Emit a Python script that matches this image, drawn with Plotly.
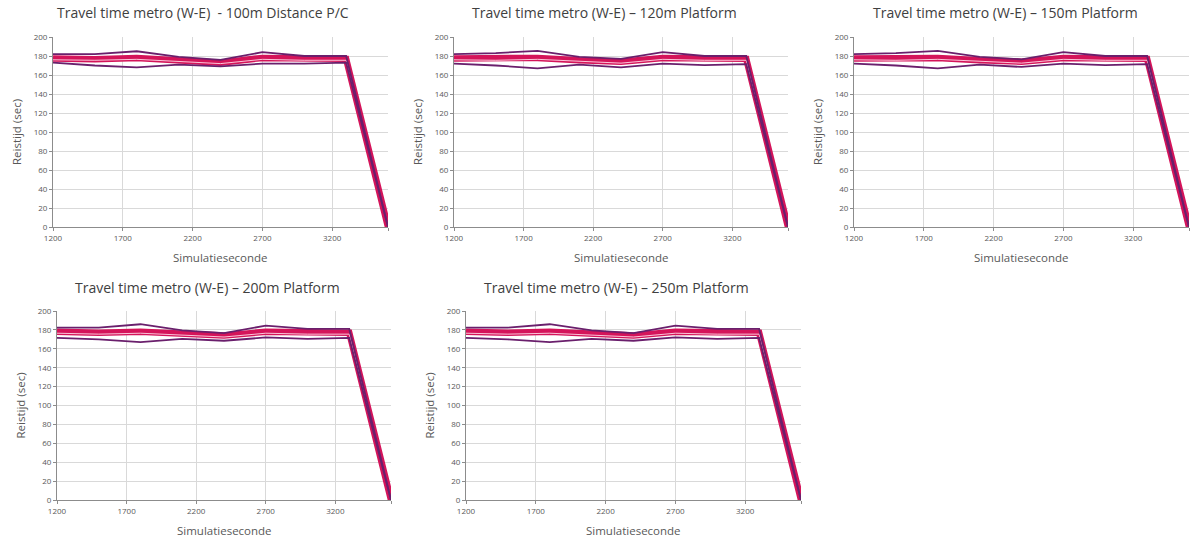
import plotly.graph_objects as go

# Simulation time stamps (seconds)
sim_seconds = [1200, 1500, 1800, 2100, 2400, 2700, 3000, 3300, 3600]

titles = [
    "Travel time metro (W-E)  - 100m Distance P/C",
    "Travel time metro (W-E) \u2013 120m Platform",
    "Travel time metro (W-E) \u2013 150m Platform",
    "Travel time metro (W-E) \u2013 200m Platform",
    "Travel time metro (W-E) \u2013 250m Platform",
]

# Travel time statistics per scenario (seconds)
max_100 = [182, 182, 185, 179, 176, 184, 180, 180, 0]
mean_100 = [177.5, 176.5, 178, 175.5, 173, 178, 177, 177, 0]
median_100 = [176, 175.5, 176.5, 174.5, 172, 176.5, 175.5, 175.5, 0]
min_100 = [173, 170, 168, 171, 169, 172, 172, 173, 0]

max_120 = [182, 183, 185.5, 179, 177, 184, 180, 180, 0]
mean_120 = [177.5, 177, 178, 175.5, 174, 178, 177, 177, 0]
median_120 = [176, 175.5, 176.5, 174.5, 172.5, 176.5, 175.5, 175.5, 0]
min_120 = [172, 170, 167, 171, 168, 172, 170.5, 171.5, 0]

max_150 = [182, 183, 185.5, 179, 176.5, 184, 180, 180, 0]
mean_150 = [177.5, 177, 178, 175.5, 174, 178, 177, 177, 0]
median_150 = [176, 175.5, 176.5, 174.5, 172.5, 176.5, 175.5, 175.5, 0]
min_150 = [172, 170, 167, 171, 168.5, 172, 170.5, 171.5, 0]

max_200 = [182.5, 182.5, 186, 179.5, 176.5, 184.5, 181, 181, 0]
mean_200 = [178, 177, 178, 175.5, 174, 178, 177, 177, 0]
median_200 = [176.5, 175.5, 176.5, 174.5, 172.5, 176.5, 175.5, 175.5, 0]
min_200 = [171.5, 170, 167, 170.5, 168.5, 172, 170.5, 171.5, 0]

max_250 = [182.5, 182.5, 186, 179.5, 176.5, 184.5, 181, 181, 0]
mean_250 = [178, 177, 178, 175.5, 174, 178, 177, 177, 0]
median_250 = [176.5, 175.5, 176.5, 174.5, 172.5, 176.5, 175.5, 175.5, 0]
min_250 = [171.5, 170, 167, 170.5, 168.5, 172, 170.5, 171.5, 0]

series = [
    (max_100, mean_100, median_100, min_100),
    (max_120, mean_120, median_120, min_120),
    (max_150, mean_150, median_150, min_150),
    (max_200, mean_200, median_200, min_200),
    (max_250, mean_250, median_250, min_250),
]

x_ticks = [1200, 1700, 2200, 2700, 3200, 3600]
x_tick_text = ["1200", "1700", "2200", "2700", "3200", ""]
y_ticks = list(range(0, 201, 20))

W, H = 1190, 541

# Plot areas in pixels: (left, right, top, bottom), plus title centre x
panels = [
    (53, 388, 37, 227, 203),
    (454, 788, 37, 227, 604),
    (854, 1189, 37, 227, 1005),
    (57, 391, 311, 500, 207),
    (466, 801, 311, 500, 616),
]

FONT = "Open Sans"
TXT = "#404040"
TICK = "#595959"
GRID = "#d9d9d9"
AXIS = "#8c8c8c"
PURPLE = "#6a1f6c"
CRIMSON = "#d4145a"

fig = go.Figure()
annotations = []

for i, ((left, right, top, bottom, tcx), (s_max, s_mean, s_med, s_min)) in enumerate(zip(panels, series)):
    n = "" if i == 0 else str(i + 1)
    xa, ya = "x" + n, "y" + n
    fig.add_trace(go.Scatter(x=sim_seconds, y=s_mean, mode="lines", xaxis=xa, yaxis=ya,
                             line=dict(color=CRIMSON, width=6.5), showlegend=False, hoverinfo="skip"))
    fig.add_trace(go.Scatter(x=sim_seconds, y=s_med, mode="lines", xaxis=xa, yaxis=ya,
                             line=dict(color="rgba(255,215,230,0.9)", width=1), showlegend=False, hoverinfo="skip"))
    fig.add_trace(go.Scatter(x=sim_seconds, y=s_max, mode="lines", xaxis=xa, yaxis=ya,
                             line=dict(color=PURPLE, width=1.8), showlegend=False, hoverinfo="skip"))
    fig.add_trace(go.Scatter(x=sim_seconds, y=s_min, mode="lines", xaxis=xa, yaxis=ya,
                             line=dict(color=PURPLE, width=1.8), showlegend=False, hoverinfo="skip"))

    xdom = [left / W, right / W]
    ydom = [1 - bottom / H, 1 - top / H]
    fig.update_layout(**{
        "xaxis" + n: dict(
            domain=xdom, anchor=ya, range=[1200, 3600], automargin=False,
            tickvals=x_ticks, ticktext=x_tick_text,
            showgrid=True, gridcolor=GRID, gridwidth=1,
            showline=True, linecolor=AXIS, linewidth=1,
            ticks="outside", ticklen=3, tickcolor=AXIS,
            tickfont=dict(family=FONT, size=8, color=TICK),
            zeroline=False, fixedrange=True,
        ),
        "yaxis" + n: dict(
            domain=ydom, anchor=xa, range=[0, 200], automargin=False,
            tickvals=y_ticks,
            showgrid=True, gridcolor=GRID, gridwidth=1,
            showline=True, linecolor=AXIS, linewidth=1,
            ticks="outside", ticklen=3, tickcolor=AXIS,
            tickfont=dict(family=FONT, size=8, color=TICK),
            zeroline=False, fixedrange=True,
        ),
    })

    annotations.append(dict(text=titles[i], x=tcx / W, y=1 - (top - 24) / H,
                            xref="paper", yref="paper", xanchor="center", yanchor="middle",
                            showarrow=False, font=dict(family=FONT, size=14, color=TXT)))
    annotations.append(dict(text="Simulatieseconde", x=(left + right) / 2 / W, y=1 - (bottom + 30) / H,
                            xref="paper", yref="paper", xanchor="center", yanchor="middle",
                            showarrow=False, font=dict(family=FONT, size=11.5, color=TICK)))
    annotations.append(dict(text="Reistijd (sec)", x=(left - 37) / W, y=1 - ((top + bottom) / 2) / H,
                            xref="paper", yref="paper", xanchor="center", yanchor="middle",
                            textangle=-90, showarrow=False, font=dict(family=FONT, size=11.5, color=TICK)))

fig.update_layout(
    width=W, height=H,
    margin=dict(l=0, r=0, t=0, b=0, autoexpand=False),
    paper_bgcolor="white", plot_bgcolor="white",
    annotations=annotations,
)

fig.write_html(
    "out.html",
    include_plotlyjs=True,
    config={"displayModeBar": False},
    post_script="document.body.style.margin='0';",
)
